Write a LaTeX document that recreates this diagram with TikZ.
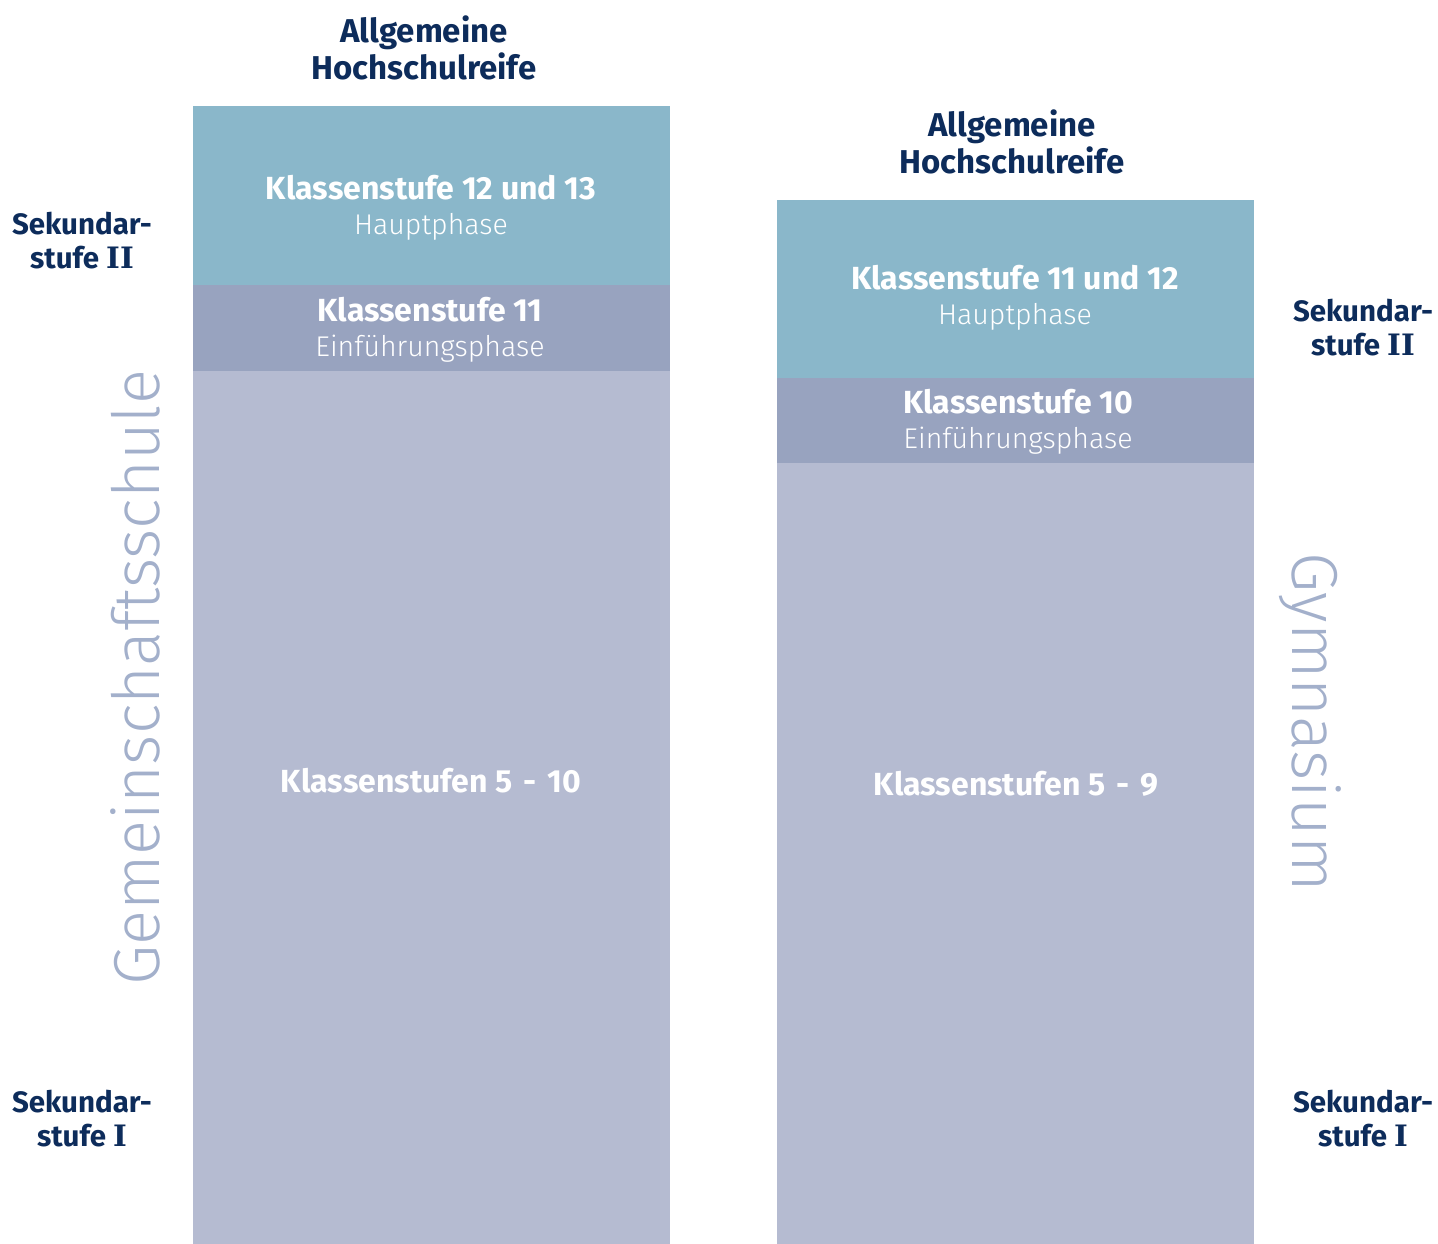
\documentclass[tikz,border=0pt]{standalone}
\usepackage{fontspec}
\setmainfont{Fira Sans}
\newfontfamily\lightfont{Fira Sans Light}
\newfontfamily\slabfont{DejaVu Serif}
\definecolor{topc}{HTML}{8AB7CA}
\definecolor{midc}{HTML}{98A3BF}
\definecolor{botc}{HTML}{B5BBD1}
\definecolor{navy}{HTML}{0D2C5B}
\definecolor{vert}{HTML}{A3B0CB}
\newcommand{\bt}[1]{{\fontsize{32}{35}\selectfont\bfseries #1}}
\newcommand{\lt}[1]{{\lightfont\fontsize{28.5}{35}\selectfont #1}}
\newcommand{\dsh}{\hspace{0.34em}-\hspace{0.34em}}
\begin{document}
\begin{tikzpicture}[x=1pt,y=-1pt,
  head/.style={font=\fontsize{33}{37}\selectfont\bfseries, text=navy, align=center},
  box/.style={font=\fontsize{29}{35}\selectfont, text=white, align=center},
  sek/.style={font=\fontsize{29.5}{34}\selectfont\bfseries, text=navy, align=center},
  vlabel/.style={font=\lightfont\fontsize{65}{75}\selectfont, text=vert}]
\useasboundingbox (0,0) rectangle (1438,1244);
% left column
\fill[topc] (193,106) rectangle (670,285);
\fill[midc] (193,285) rectangle (670,371);
\fill[botc] (193,371) rectangle (670,1244);
% right column
\fill[topc] (777,200) rectangle (1254,378);
\fill[midc] (777,378) rectangle (1254,463);
\fill[botc] (777,463) rectangle (1254,1244);
% headings
\node[head] (lh) at (424,48) {Allgemeine\\Hochschulreife};
\node[head] (rh) at (1012,142) {Allgemeine\\Hochschulreife};
% left boxes
\node[box] (l1) at (431,208) {\bt{Klassenstufe 12 und 13}\\\lt{Hauptphase}};
\node[box] (l2) at (430,330) {\bt{Klassenstufe 11}\\\lt{Einführungsphase}};
\node[box] (l3) at (431,781) {\bt{Klassenstufen 5\dsh 10}};
% right boxes
\node[box] (r1) at (1015,298) {\bt{Klassenstufe 11 und 12}\\\lt{Hauptphase}};
\node[box] (r2) at (1018,422) {\bt{Klassenstufe 10}\\\lt{Einführungsphase}};
\node[box] (r3) at (1016,784) {\bt{Klassenstufen 5\dsh 9}};
% Sekundarstufe labels
\node[sek] (ls2) at (82,241) {Sekundar-\\stufe {\slabfont II}};
\node[sek] (ls1) at (82,1119) {Sekundar-\\stufe {\slabfont I}};
\node[sek] (rs2) at (1363,328) {Sekundar-\\stufe {\slabfont II}};
\node[sek] (rs1) at (1363,1119) {Sekundar-\\stufe {\slabfont I}};
% vertical labels
\node[vlabel, rotate=90] (lv) at (135,678) {Gemeinschaftsschule};
\node[vlabel, rotate=-90] (rv) at (1310,722) {Gymnasium};
\end{tikzpicture}
\end{document}
